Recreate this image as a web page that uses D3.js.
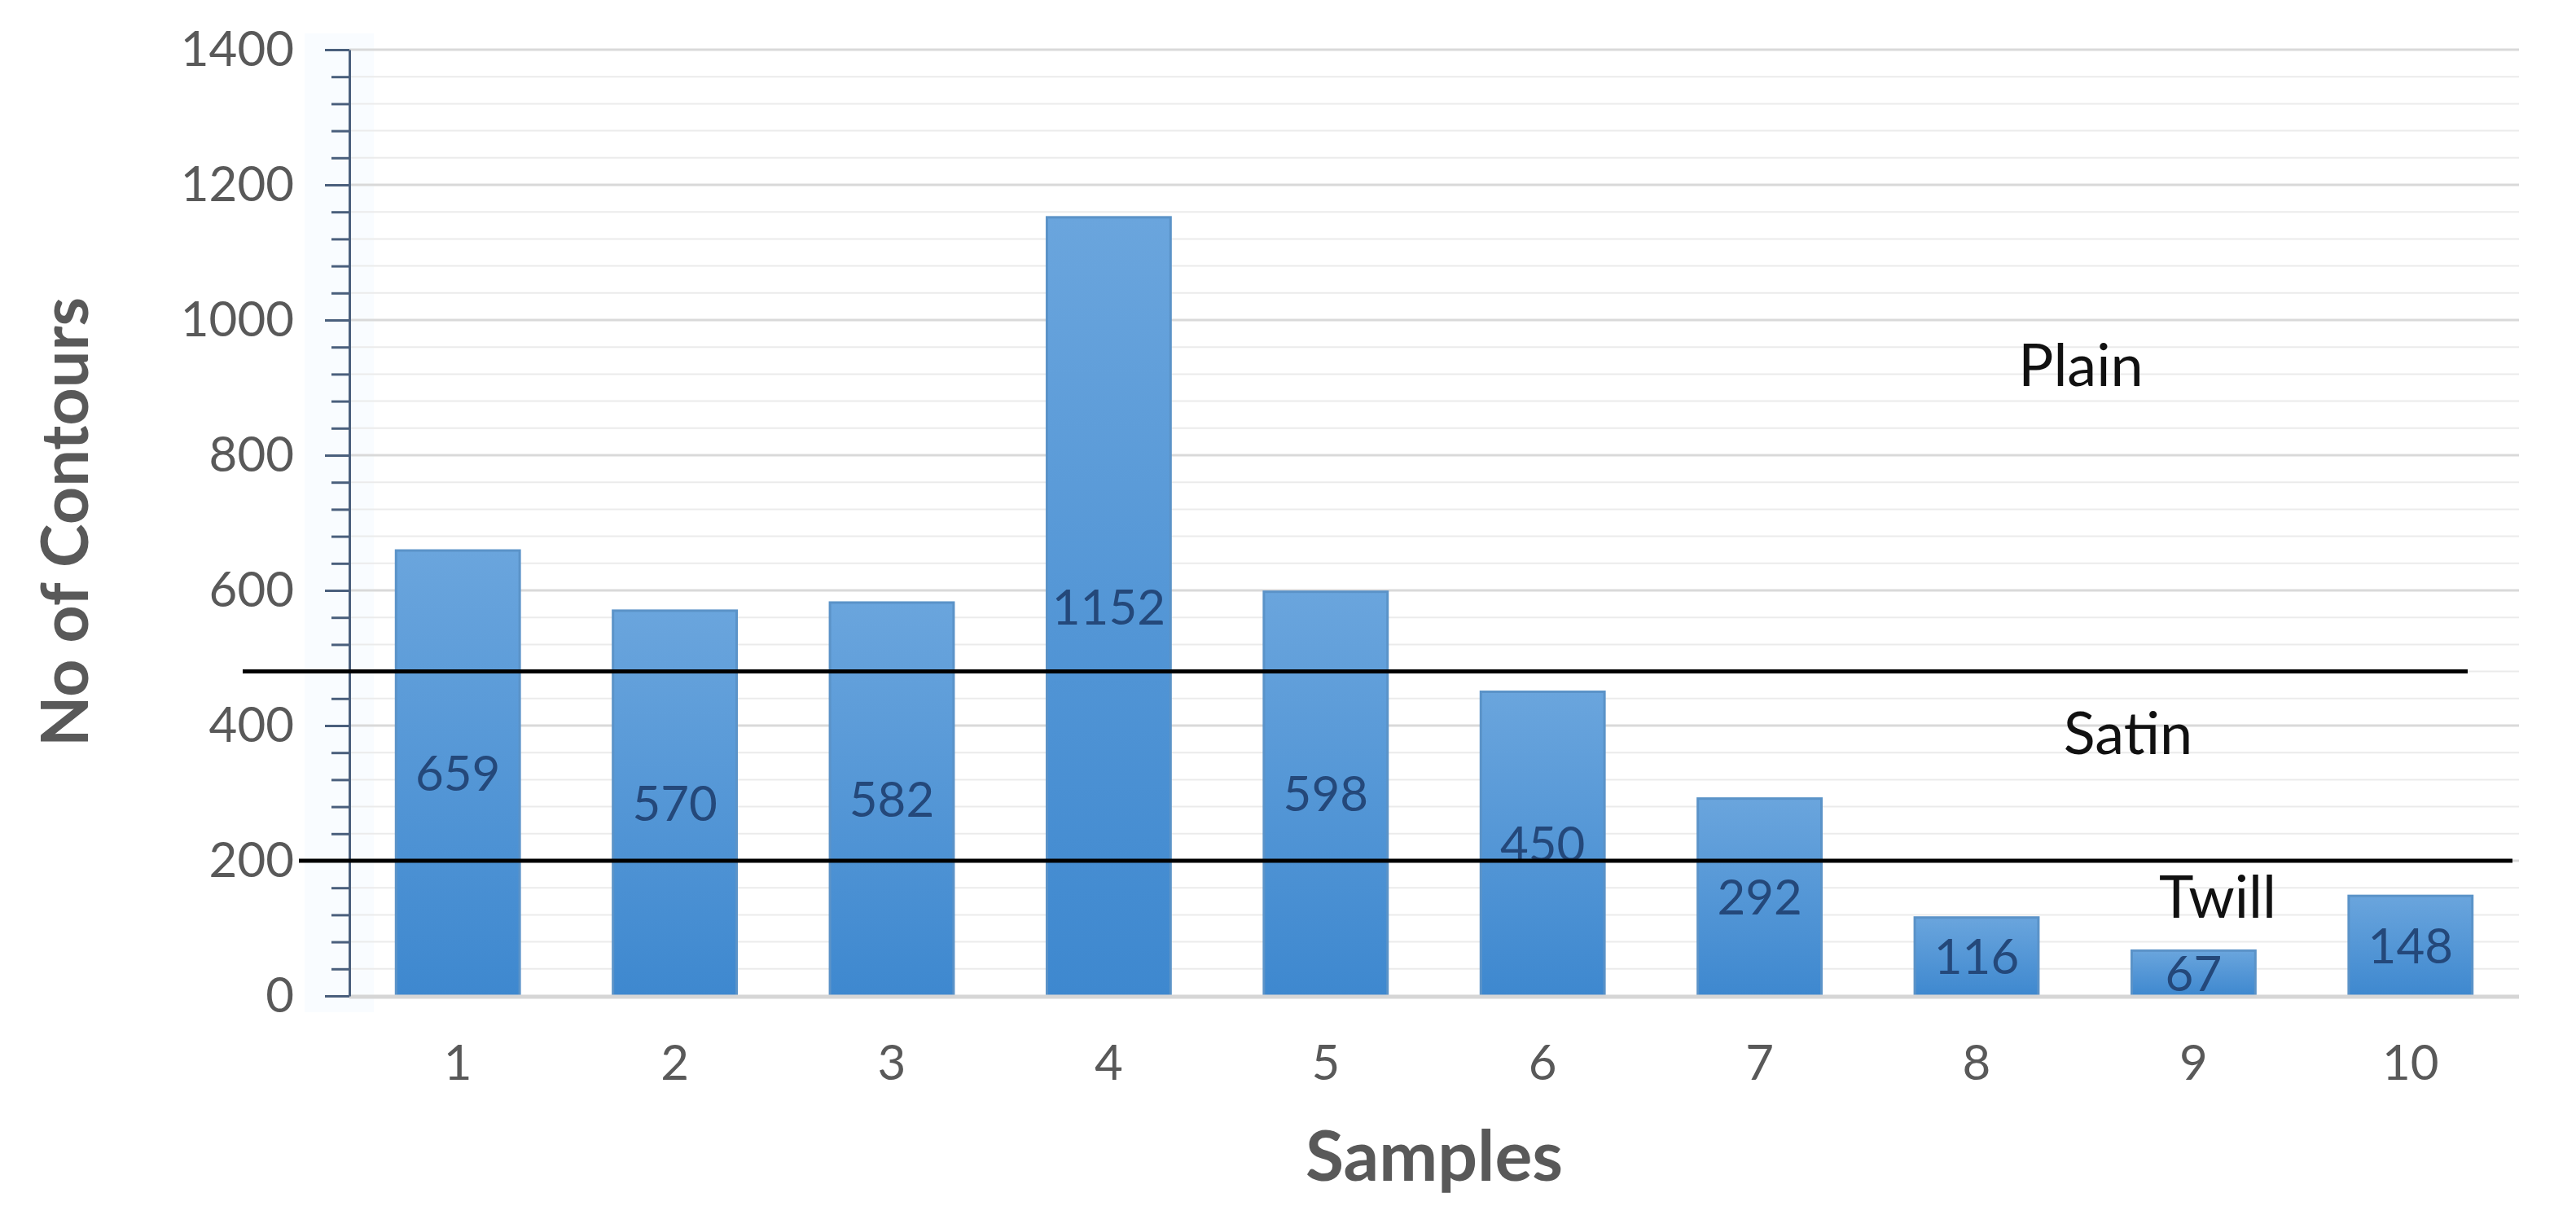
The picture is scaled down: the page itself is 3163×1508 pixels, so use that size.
<!DOCTYPE html>
<html>
<head>
<meta charset="utf-8">
<script src="https://cdn.jsdelivr.net/npm/d3@7"></script>
<style>
  html, body { margin: 0; padding: 0; background: #fff; }
  text { font-family: Lato, "Open Sans", sans-serif; }
</style>
</head>
<body>
<div id="chart"></div>
<script>
// data
const samples = ['1', '2', '3', '4', '5', '6', '7', '8', '9', '10'];
const contours = [659, 570, 582, 1152, 598, 450, 292, 116, 67, 148];
const yTicks = [0, 200, 400, 600, 800, 1000, 1200, 1400];
const thresholds = [480, 200];
const weaveNames = ['Plain', 'Satin', 'Twill'];

const width = 3163;
const height = 1508;
const plot = { left: 429, right: 3093, top: 61, bottom: 1223 };

const svg = d3.select('#chart').append('svg')
  .attr('width', width)
  .attr('height', height);

const x = d3.scaleBand()
  .domain(samples)
  .range([plot.left, plot.right])
  .paddingInner(0.43)
  .paddingOuter(0.215);

const y = d3.scaleLinear()
  .domain([0, 1400])
  .range([plot.bottom, plot.top]);

// bar gradient, Excel style
const grad = svg.append('defs').append('linearGradient')
  .attr('id', 'barFill')
  .attr('x1', 0).attr('y1', 0).attr('x2', 0).attr('y2', 1);
grad.append('stop').attr('offset', '0%').attr('stop-color', '#6aa5dd');
grad.append('stop').attr('offset', '100%').attr('stop-color', '#3e88cf');

// faint glow beside the y axis
svg.append('rect')
  .attr('x', plot.left - 55)
  .attr('y', plot.top - 20)
  .attr('width', 85)
  .attr('height', plot.bottom - plot.top + 40)
  .attr('fill', '#f9fcff');

// minor gridlines every 40
const minor = d3.range(0, 1401, 40).filter((v) => v % 200 !== 0);
svg.append('g')
  .selectAll('line')
  .data(minor)
  .join('line')
  .attr('x1', plot.left)
  .attr('x2', plot.right)
  .attr('y1', (d) => y(d))
  .attr('y2', (d) => y(d))
  .attr('stroke', '#ebebeb')
  .attr('stroke-width', 2);

// major gridlines
svg.append('g')
  .selectAll('line')
  .data(yTicks.filter((d) => d > 0))
  .join('line')
  .attr('x1', plot.left)
  .attr('x2', plot.right)
  .attr('y1', (d) => y(d))
  .attr('y2', (d) => y(d))
  .attr('stroke', '#d9d9d9')
  .attr('stroke-width', 3);

// bars
svg.append('g')
  .selectAll('rect')
  .data(contours)
  .join('rect')
  .attr('x', (d, i) => x(samples[i]))
  .attr('y', (d) => y(d))
  .attr('width', x.bandwidth())
  .attr('height', (d) => y(0) - y(d))
  .attr('fill', 'url(#barFill)')
  .attr('stroke', '#5b93c8')
  .attr('stroke-width', 3);

// x axis baseline
svg.append('line')
  .attr('x1', plot.left)
  .attr('x2', plot.right)
  .attr('y1', y(0) + 1)
  .attr('y2', y(0) + 1)
  .attr('stroke', '#d6d6d6')
  .attr('stroke-width', 5);

// y axis with major and minor ticks
const yAxisMinor = d3.axisLeft(y)
  .tickValues(minor)
  .tickSize(22)
  .tickFormat('');
svg.append('g')
  .attr('transform', `translate(${plot.left},0)`)
  .call(yAxisMinor)
  .call((g) => g.select('.domain').remove())
  .call((g) => g.selectAll('.tick line').attr('stroke', '#4a5f7c').attr('stroke-width', 3));

const yAxis = d3.axisLeft(y)
  .tickValues(yTicks)
  .tickFormat(d3.format('d'))
  .tickSize(30)
  .tickPadding(38)
  .tickSizeOuter(0);
svg.append('g')
  .attr('transform', `translate(${plot.left},0)`)
  .call(yAxis)
  .call((g) => g.select('.domain').attr('stroke', '#4a5f7c').attr('stroke-width', 3))
  .call((g) => g.selectAll('.tick line').attr('stroke', '#4a5f7c').attr('stroke-width', 3))
  .call((g) => g.selectAll('.tick text')
    .attr('fill', '#595959')
    .style('font-size', '60px')
    .style('font-family', 'Lato, sans-serif'));

// x axis labels
const xAxis = d3.axisBottom(x).tickSize(0).tickPadding(60);
svg.append('g')
  .attr('transform', `translate(0,${plot.bottom})`)
  .call(xAxis)
  .call((g) => g.select('.domain').remove())
  .call((g) => g.selectAll('.tick text')
    .attr('fill', '#595959')
    .style('font-size', '60px')
    .style('font-family', 'Lato, sans-serif'));

// value labels at the middle of each bar
svg.append('g')
  .selectAll('text')
  .data(contours)
  .join('text')
  .attr('x', (d, i) => x(samples[i]) + x.bandwidth() / 2)
  .attr('y', (d) => (y(0) + y(d)) / 2)
  .attr('dy', '0.36em')
  .attr('text-anchor', 'middle')
  .attr('fill', '#24487a')
  .style('font-size', '60px')
  .text((d) => d);

// weave boundaries
const lineSpans = [
  { x1: plot.left - 131, x2: plot.right - 63 },
  { x1: plot.left - 62, x2: plot.right - 8 },
];
svg.append('g')
  .selectAll('line')
  .data(thresholds)
  .join('line')
  .attr('x1', (d, i) => lineSpans[i].x1)
  .attr('x2', (d, i) => lineSpans[i].x2)
  .attr('y1', (d) => y(d))
  .attr('y2', (d) => y(d))
  .attr('stroke', '#000')
  .attr('stroke-width', 5);

// weave names
const namePos = [
  { cx: 2555, v: 934 },
  { cx: 2613, v: 389 },
  { cx: 2723, v: 147 },
];
svg.append('g')
  .selectAll('text')
  .data(weaveNames)
  .join('text')
  .attr('x', (d, i) => namePos[i].cx)
  .attr('y', (d, i) => y(namePos[i].v))
  .attr('dy', '0.36em')
  .attr('text-anchor', 'middle')
  .attr('fill', '#111')
  .style('font-size', '72px')
  .text((d) => d);

// axis titles
svg.append('text')
  .attr('x', (plot.left + plot.right) / 2)
  .attr('y', 1450)
  .attr('text-anchor', 'middle')
  .attr('fill', '#595959')
  .style('font-size', '86px')
  .style('font-weight', 'bold')
  .text('Samples');

svg.append('text')
  .attr('transform', 'translate(108,641) rotate(-90)')
  .attr('text-anchor', 'middle')
  .attr('fill', '#595959')
  .style('font-size', '81px')
  .style('font-weight', 'bold')
  .text('No of Contours');
</script>
</body>
</html>
